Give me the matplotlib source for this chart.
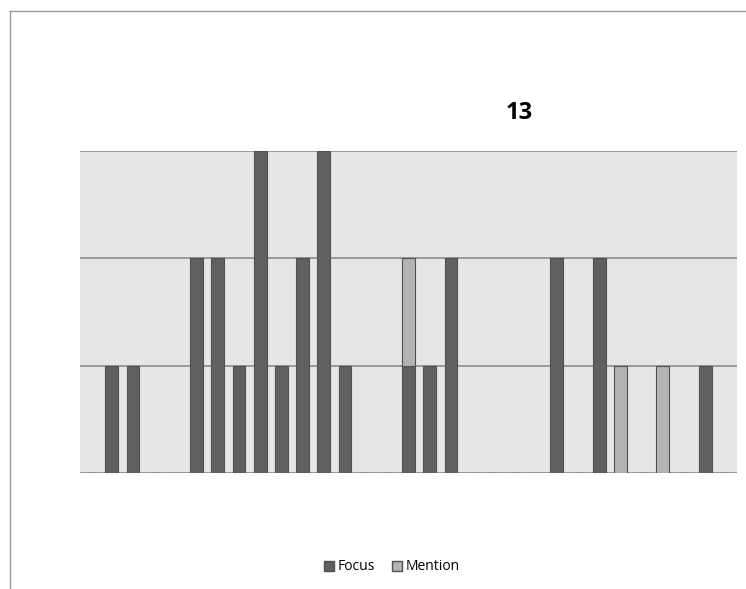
import numpy as np
import matplotlib.pyplot as plt
from matplotlib.lines import Line2D
from matplotlib.patches import Patch

# 31 categories, no labels shown
focus = [0, 1, 1, 0, 0, 2, 2, 1, 3, 1, 2, 3, 1, 0, 0, 1, 1, 2,
         0, 0, 0, 0, 2, 0, 2, 0, 0, 0, 0, 1, 0]
mention = [0, 0, 0, 0, 0, 0, 0, 0, 0, 0, 0, 0, 0, 0, 0, 1, 0, 0,
           0, 0, 0, 0, 0, 0, 0, 1, 0, 1, 0, 0, 0]
title = "13"
series_names = ["Focus", "Mention"]

c_focus = "#606060"
c_mention = "#b4b4b4"
c_edge = "#505050"

fig = plt.figure(figsize=(7.46, 5.89), dpi=100)
W, H = 746, 589

ax = fig.add_axes([80 / W, 1 - 473 / H, (737 - 80) / W, (473 - 151) / H])
ax.set_facecolor("#e6e6e6")

x = np.arange(len(focus))
ax.bar(x, focus, width=0.6, color=c_focus, edgecolor=c_edge, linewidth=0.8, zorder=3)
ax.bar(x, mention, width=0.6, bottom=focus, color=c_mention, edgecolor=c_edge,
       linewidth=0.8, zorder=3)

ax.set_xlim(-0.5, len(focus) - 0.5)
ax.set_ylim(0, 3)
for yv in [0, 1, 2, 3]:
    ax.axhline(yv, color="#8c8c8c", linewidth=1.2, zorder=2)
for s in ax.spines.values():
    s.set_visible(False)
ax.set_xticks([])
ax.set_yticks([])

# outer chart border (left and top visible)
fig.add_artist(Line2D([10 / W, 10 / W], [0, 1 - 11 / H], transform=fig.transFigure,
                      color="#9a9a9a", linewidth=1))
fig.add_artist(Line2D([10 / W, 1], [1 - 11 / H, 1 - 11 / H], transform=fig.transFigure,
                      color="#9a9a9a", linewidth=1))

fig.text(519 / W, 1 - 113 / H, title, ha="center", va="center",
         fontsize=17, fontweight="bold", family="Open Sans")

handles = [Patch(facecolor=c_focus, edgecolor=c_edge),
           Patch(facecolor=c_mention, edgecolor=c_edge)]
fig.legend(handles, series_names, loc="center", bbox_to_anchor=(392 / W, 1 - 567 / H),
           ncol=2, frameon=False, fontsize=10, handlelength=0.7, handleheight=0.7,
           handletextpad=0.3, columnspacing=1.2, prop={"family": "Open Sans", "size": 10})

fig.savefig("out.png", dpi=100)
